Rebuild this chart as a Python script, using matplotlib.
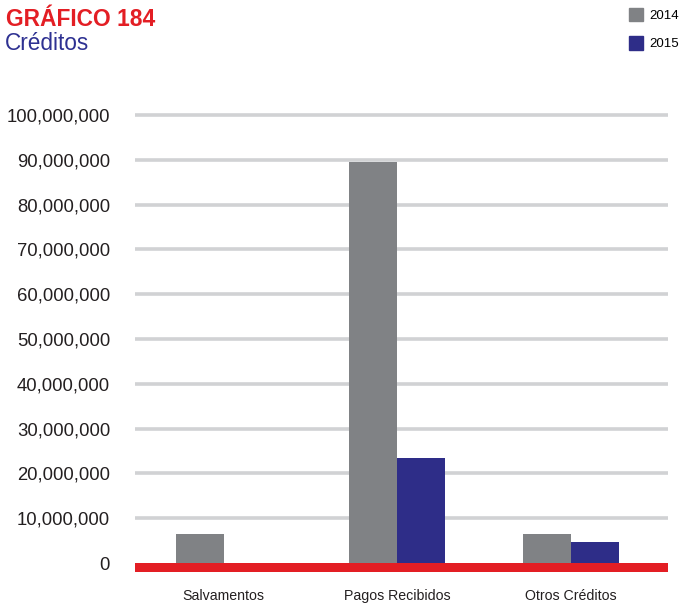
import matplotlib
matplotlib.use("Agg")
import matplotlib.pyplot as plt
from matplotlib.patches import Patch
import numpy as np

categories = ["Salvamentos", "Pagos Recibidos", "Otros Créditos"]
series_2014 = [6500000, 89400000, 6500000]
series_2015 = [0, 23400000, 4700000]
series_names = ["2014", "2015"]
yticks = [0, 10000000, 20000000, 30000000, 40000000, 50000000,
          60000000, 70000000, 80000000, 90000000, 100000000]

plt.rcParams['font.family'] = ['Liberation Sans', 'DejaVu Sans']

fig = plt.figure(figsize=(6.8, 6.05), dpi=100)
ax = fig.add_axes([135/680, 1-572/605, (668-135)/680, (572-106)/605])

c14 = "#808285"
c15 = "#2e2d88"
red = "#e31e24"

x = np.arange(len(categories))
w = 0.275
ax.bar(x - w/2, series_2014, width=w, color=c14, zorder=3, label=series_names[0])
ax.bar(x + w/2, series_2015, width=w, color=c15, zorder=3, label=series_names[1])

ax.set_xlim(-0.51, 2.56)
ax.set_ylim(-2000000, 102000000)
for t in yticks[1:]:
    ax.axhline(t, color="#d1d2d4", lw=2.6, zorder=1)
ax.axhspan(-2000000, 0, color=red, zorder=4, lw=0)

ax.set_yticks(yticks)
ax.set_yticklabels([f"{v:,}" for v in yticks], fontsize=13.3, color="#231f20")
ax.set_xticks(x)
ax.set_xticklabels(categories, fontsize=10.2, color="#231f20")
ax.tick_params(axis='y', length=0, pad=18)
ax.tick_params(axis='x', length=0, pad=12)
for s in ax.spines.values():
    s.set_visible(False)

fig.text(6/680, 1-19/605, "GRÁFICO 184", color=red, fontsize=16.4, fontweight='bold', va='center', ha='left')
fig.text(5/680, 1-44/605, "Créditos", color="#2e3192", fontsize=16.3, va='center', ha='left')

handles = [Patch(color=c14), Patch(color=c15)]
fig.legend(handles, series_names, loc='upper left', bbox_to_anchor=(626/680, 1-5/605),
           frameon=False, fontsize=9.5, handlelength=1.1, handleheight=1.15,
           labelspacing=1.12, handletextpad=0.5, borderaxespad=0, borderpad=0.2)

fig.savefig("out.png", dpi=100)
